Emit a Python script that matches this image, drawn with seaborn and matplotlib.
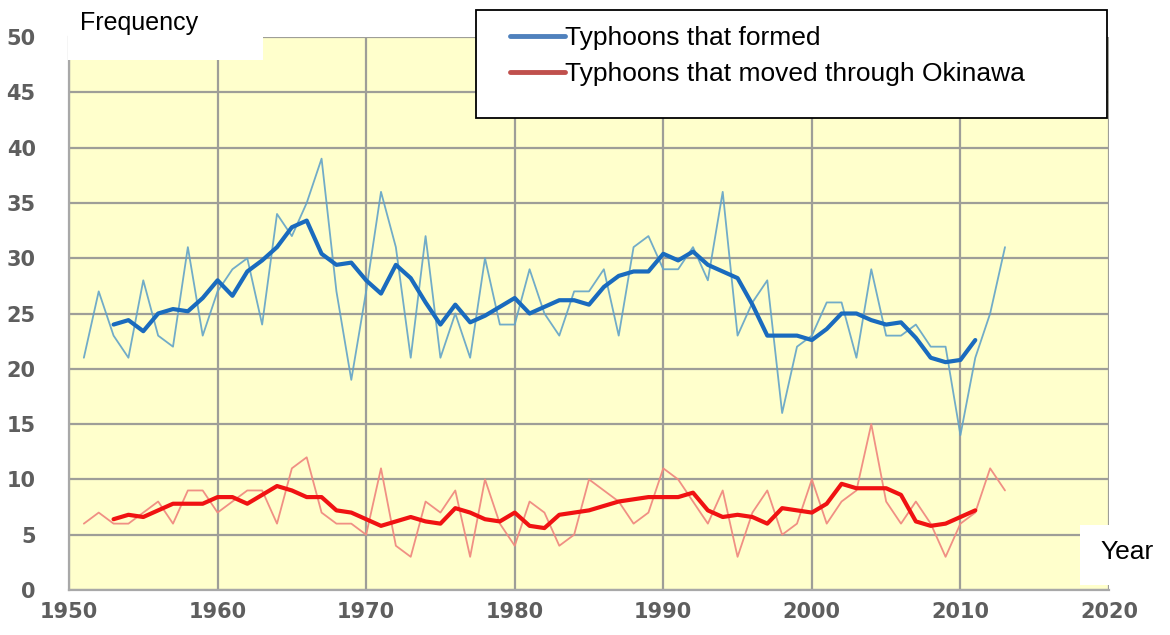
import pandas as pd
import matplotlib.pyplot as plt
from matplotlib.lines import Line2D
from matplotlib.patches import Rectangle
import seaborn as sns

# typhoons per year (1951-2013)
years = list(range(1951, 2014))
formed = [21, 27, 23, 21, 28, 23, 22, 31, 23, 27,
          29, 30, 24, 34, 32, 35, 39, 27, 19, 27,
          36, 31, 21, 32, 21, 25, 21, 30, 24, 24,
          29, 25, 23, 27, 27, 29, 23, 31, 32, 29,
          29, 31, 28, 36, 23, 26, 28, 16, 22, 23,
          26, 26, 21, 29, 23, 23, 24, 22, 22, 14,
          21, 25, 31]
okinawa = [6, 7, 6, 6, 7, 8, 6, 9, 9, 7,
           8, 9, 9, 6, 11, 12, 7, 6, 6, 5,
           11, 4, 3, 8, 7, 9, 3, 10, 6, 4,
           8, 7, 4, 5, 10, 9, 8, 6, 7, 11,
           10, 8, 6, 9, 3, 7, 9, 5, 6, 10,
           6, 8, 9, 15, 8, 6, 8, 6, 3, 6,
           7, 11, 9]

# thick lines (5-year running mean), 1953-2011
years_avg = list(range(1953, 2012))
formed_avg = [24.0, 24.4, 23.4, 25.0, 25.4, 25.2, 26.4, 28.0, 26.6, 28.8,
              29.8, 31.0, 32.8, 33.4, 30.4, 29.4, 29.6, 28.0, 26.8, 29.4,
              28.2, 26.0, 24.0, 25.8, 24.2, 24.8, 25.6, 26.4, 25.0, 25.6,
              26.2, 26.2, 25.8, 27.4, 28.4, 28.8, 28.8, 30.4, 29.8, 30.6,
              29.4, 28.8, 28.2, 25.8, 23.0, 23.0, 23.0, 22.6, 23.6, 25.0,
              25.0, 24.4, 24.0, 24.2, 22.8, 21.0, 20.6, 20.8, 22.6]
okinawa_avg = [6.4, 6.8, 6.6, 7.2, 7.8, 7.8, 7.8, 8.4, 8.4, 7.8,
               8.6, 9.4, 9.0, 8.4, 8.4, 7.2, 7.0, 6.4, 5.8, 6.2,
               6.6, 6.2, 6.0, 7.4, 7.0, 6.4, 6.2, 7.0, 5.8, 5.6,
               6.8, 7.0, 7.2, 7.6, 8.0, 8.2, 8.4, 8.4, 8.4, 8.8,
               7.2, 6.6, 6.8, 6.6, 6.0, 7.4, 7.2, 7.0, 7.8, 9.6,
               9.2, 9.2, 9.2, 8.6, 6.2, 5.8, 6.0, 6.6, 7.2]

labels = ["Typhoons that formed", "Typhoons that moved through Okinawa"]
x_ticks = [1950, 1960, 1970, 1980, 1990, 2000, 2010, 2020]
y_ticks = [0, 5, 10, 15, 20, 25, 30, 35, 40, 45, 50]

annual = pd.DataFrame({"year": years, "formed": formed, "okinawa": okinawa})
avg = pd.DataFrame({"year": years_avg, "formed": formed_avg, "okinawa": okinawa_avg})

sns.set_theme(style="white")
plt.rcParams["font.family"] = ["DejaVu Sans"]
arial = ["Liberation Sans", "DejaVu Sans"]

W, H = 1170, 635
fig = plt.figure(figsize=(W / 100, H / 100), dpi=100)
fig.patch.set_facecolor("white")
ax = fig.add_axes([69 / W, (H - 590) / H, (1109 - 69) / W, (590 - 37) / H])
ax.set_facecolor("#FFFFCC")

sns.lineplot(data=annual, x="year", y="formed", ax=ax, color="#62A3C8",
             linewidth=1.3, alpha=0.9)
sns.lineplot(data=annual, x="year", y="okinawa", ax=ax, color="#F08A80",
             linewidth=1.3, alpha=0.95)
sns.lineplot(data=avg, x="year", y="formed", ax=ax, color="#1A6BBE", linewidth=3.0)
sns.lineplot(data=avg, x="year", y="okinawa", ax=ax, color="#F01212", linewidth=3.0)

ax.set_xlim(1950, 2020)
ax.set_ylim(0, 50)
ax.set_xticks(x_ticks)
ax.set_yticks(y_ticks)
ax.grid(True, color="#9E9E98", linewidth=1.6)
ax.set_axisbelow(True)
ax.set_xlabel("")
ax.set_ylabel("")
ax.tick_params(axis="both", length=0, labelsize=15, labelcolor="#5E5E5E")
ax.tick_params(axis="y", pad=24)
ax.tick_params(axis="x", pad=9)
for lab in ax.get_xticklabels() + ax.get_yticklabels():
    lab.set_fontweight("bold")
for side in ["top", "right"]:
    ax.spines[side].set_visible(False)
for side in ["left", "bottom"]:
    ax.spines[side].set_color("#A8A8A8")
    ax.spines[side].set_linewidth(1.6)

# white label boxes
fig.patches.append(Rectangle((68 / W, (H - 60) / H), 195 / W, 60 / H,
                             transform=fig.transFigure, facecolor="white",
                             edgecolor="none", zorder=2))
fig.text(80 / W, (H - 23) / H, "Frequency", family=arial, color="black",
         fontsize=18, va="center", ha="left", zorder=3)
fig.patches.append(Rectangle((1080 / W, (H - 585) / H), 90 / W, 60 / H,
                             transform=fig.transFigure, facecolor="white",
                             edgecolor="none", zorder=2))
fig.text(1127 / W, (H - 552) / H, "Year", family=arial, color="black",
         fontsize=19, va="center", ha="center", zorder=3)

# legend box
fig.patches.append(Rectangle((476 / W, (H - 118) / H), 631 / W, 108 / H,
                             transform=fig.transFigure, facecolor="white",
                             edgecolor="black", linewidth=1.3, zorder=2))
handles = [Line2D([], [], color="#4F81BD", linewidth=3.5),
           Line2D([], [], color="#C0504D", linewidth=3.5)]
leg = fig.legend(handles, labels, loc="upper left", bbox_to_anchor=(510 / W, (H - 26) / H),
                 frameon=False, handlelength=2.1, handletextpad=0.0, labelspacing=0.45,
                 borderpad=0, borderaxespad=0, labelcolor="black",
                 prop={"family": arial, "size": 19})
leg.set_zorder(4)

fig.savefig("out.png", dpi=100, facecolor="white")
